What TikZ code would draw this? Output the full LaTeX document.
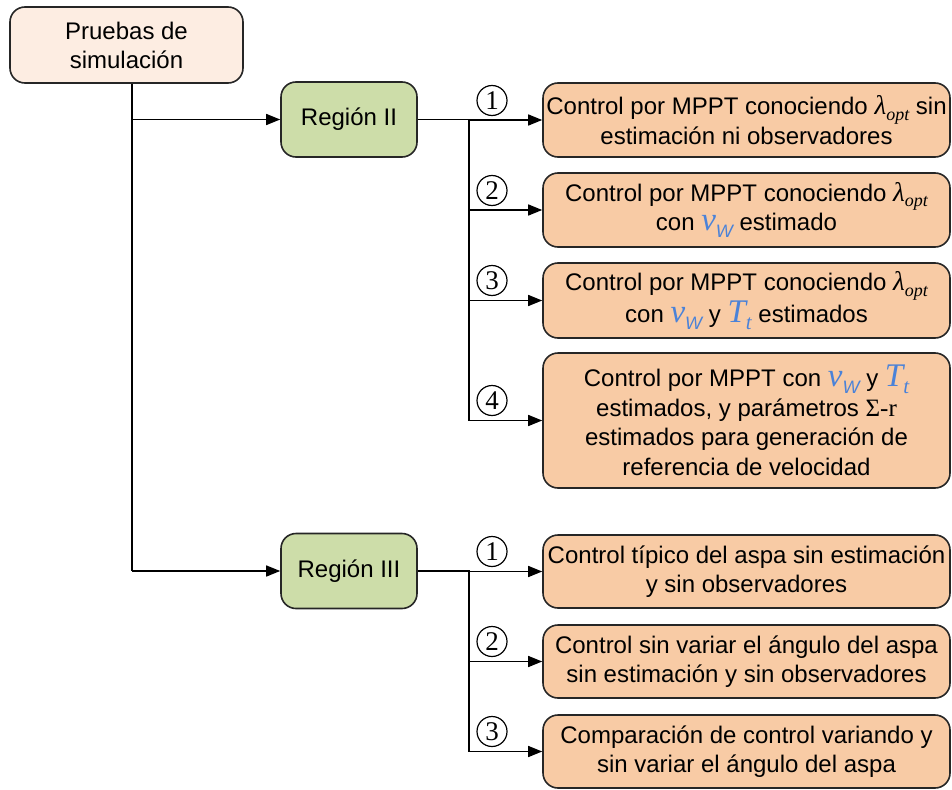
\documentclass[tikz,border=0pt]{standalone}
\usepackage{fontspec}
\setmainfont{Liberation Sans}
\newfontfamily\tms{Liberation Serif}
\usetikzlibrary{arrows.meta}
\definecolor{peach}{HTML}{F8CBA5}
\definecolor{lpeach}{HTML}{FDEDE2}
\definecolor{lgreen}{HTML}{CDDDA9}
\definecolor{vblue}{HTML}{4A82D8}
\newcommand{\lopt}{{\tms\itshape\fontsize{27}{27}\selectfont λ\raisebox{-0.2em}{\fontsize{18}{18}\selectfont opt}}}
\newcommand{\vw}{{\color{vblue}\tms\itshape\fontsize{33}{33}\selectfont v\raisebox{-0.2em}{\normalfont\itshape\fontsize{18}{18}\selectfont W}}}
\newcommand{\Tt}{{\color{vblue}\tms\itshape\fontsize{33}{33}\selectfont T\raisebox{-0.2em}{\fontsize{21}{21}\selectfont t}}}
\begin{document}
\begin{tikzpicture}[x=1pt,y=-1pt,
  box/.style={draw=black!85,line width=1.6pt,rounded corners=15pt,align=center,inner sep=2pt,font=\fontsize{24}{29.5}\selectfont},
  obox/.style={box,fill=peach,minimum width=407pt},
  gbox/.style={box,fill=lgreen,minimum width=136pt,minimum height=75pt},
  ln/.style={line width=1.4pt},
  arr/.style={ln,-{Triangle[length=14pt,width=11pt]}},
  num/.style={circle,draw,line width=1.2pt,inner sep=0pt,minimum size=30pt,font=\tms\fontsize{27}{27}\selectfont}]
\useasboundingbox (0,0) rectangle (952,789);
\node[box,fill=lpeach,minimum width=233pt,minimum height=76pt,font=\fontsize{24}{29}\selectfont] (top) at (126.5,45) {Pruebas de\\simulación};
\node[gbox] (r2) at (349,119.5) {Región II};
\node[gbox] (r3) at (349,571) {Región III};
\node[obox,minimum height=74pt] (b1) at (746.5,120) {Control por MPPT conociendo \lopt{} sin\\estimación ni observadores};
\node[obox,minimum height=74pt] (b2) at (746.5,210) {Control por MPPT conociendo \lopt\\con \vw{} estimado};
\node[obox,minimum height=75pt] (b3) at (746.5,300.5) {Control por MPPT conociendo \lopt\\con \vw{} y \Tt{} estimados};
\node[obox,minimum height=135pt] (b4) at (746.5,420.5) {Control por MPPT con \vw{} y \Tt\\estimados, y parámetros {\tms\fontsize{25}{25}\selectfont Σ-r}\\estimados para generación de\\referencia de velocidad};
\node[obox,minimum height=73pt] (c1) at (746.5,571.5) {Control típico del aspa sin estimación\\y sin observadores};
\node[obox,minimum height=73pt] (c2) at (746.5,661.5) {Control sin variar el ángulo del aspa\\sin estimación y sin observadores};
\node[obox,minimum height=73pt] (c3) at (746.5,751.5) {Comparación de control variando y\\sin variar el ángulo del aspa};
\coordinate (j0) at ([xshift=5.5pt]top.south);
\coordinate (j1) at (469,119.5);
\coordinate (j2) at (469,571);
\draw[ln] (j0) -- (j0 |- r3.west);
\draw[arr] (j0 |- r2.west) -- (r2.west);
\draw[arr] (j0 |- r3.west) -- (r3.west);
\draw[ln] (r2.east) -- (j1) -- (j1 |- b4.west);
\draw[ln] (r3.east) -- (j2) -- (j2 |- c3.west);
\foreach \b in {b1,b2,b3,b4} \draw[arr] (j1 |- \b.west) -- (\b.west);
\foreach \b in {c1,c2,c3} \draw[arr] (j2 |- \b.west) -- (\b.west);
\node[num] (n1) at (492,100.5) {1};
\node[num] (n2) at (492,190.5) {2};
\node[num] (n3) at (492,280.5) {3};
\node[num] (n4) at (492,400.5) {4};
\node[num] (m1) at (492,551.5) {1};
\node[num] (m2) at (492,641.5) {2};
\node[num] (m3) at (492,731.5) {3};
\end{tikzpicture}
\end{document}
